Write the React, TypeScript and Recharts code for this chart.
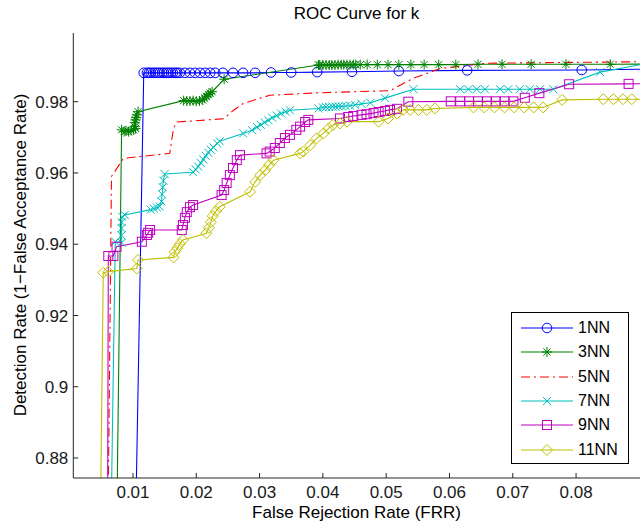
import React from "react";
import { LineChart, Line, XAxis, YAxis } from "recharts";

// ROC curves, [FRR, detection rate]
const nn1: [number, number][] = [
  [0.0105, 0.87], [0.0117, 0.9881], [0.0122, 0.9881], [0.0125, 0.9881], [0.0128, 0.9881],
  [0.0132, 0.9881], [0.0135, 0.9881], [0.0139, 0.9881], [0.0142, 0.9881], [0.0146, 0.9881],
  [0.0149, 0.9881], [0.0153, 0.9881], [0.0156, 0.9881], [0.016, 0.9881], [0.0163, 0.9881],
  [0.0167, 0.9881], [0.017, 0.9881], [0.0174, 0.9881], [0.0182, 0.9881], [0.019, 0.9881],
  [0.0198, 0.9881], [0.0206, 0.9881], [0.0214, 0.9881], [0.0222, 0.9881], [0.023, 0.9881],
  [0.0242, 0.9881], [0.0258, 0.9881], [0.0274, 0.9881], [0.0293, 0.9881], [0.0318, 0.9882],
  [0.035, 0.9882], [0.0391, 0.9883], [0.0446, 0.9884], [0.052, 0.9886], [0.0628, 0.9888],
  [0.0809, 0.9889], [0.095, 0.9892],
];

const nn3: [number, number][] = [
  [0.0075, 0.87], [0.0082, 0.9721], [0.0086, 0.9716], [0.0089, 0.9718], [0.0093, 0.9716],
  [0.0097, 0.9719], [0.0101, 0.9721], [0.0104, 0.9725], [0.0103, 0.973], [0.0103, 0.9742],
  [0.0104, 0.9749], [0.0105, 0.9756], [0.0106, 0.9763], [0.0108, 0.9772], [0.018, 0.9803],
  [0.0185, 0.9802], [0.019, 0.9802], [0.0195, 0.9803], [0.02, 0.9801], [0.0205, 0.9802],
  [0.021, 0.9805], [0.0213, 0.981], [0.0216, 0.9815], [0.0219, 0.982], [0.0222, 0.9824],
  [0.0225, 0.9828], [0.0244, 0.9863], [0.0393, 0.9903], [0.0395, 0.9903], [0.04, 0.9903],
  [0.0405, 0.9903], [0.041, 0.9903], [0.0414, 0.9903], [0.0419, 0.9903], [0.0424, 0.9904],
  [0.0429, 0.9904], [0.0433, 0.9904], [0.0438, 0.9904], [0.0443, 0.9904], [0.0448, 0.9904],
  [0.0452, 0.9904], [0.0459, 0.9904], [0.047, 0.9904], [0.0486, 0.9904], [0.0503, 0.9904],
  [0.052, 0.9904], [0.0539, 0.9904], [0.056, 0.9904], [0.0583, 0.9904], [0.061, 0.9904],
  [0.0645, 0.9905], [0.0683, 0.9905], [0.0729, 0.9905], [0.0784, 0.9905], [0.0854, 0.9905],
  [0.095, 0.9906],
];

const nn5: [number, number][] = [
  [0.0061, 0.87], [0.0066, 0.959], [0.0085, 0.9641], [0.0158, 0.9655], [0.0164, 0.9725],
  [0.0169, 0.9743], [0.0243, 0.9752], [0.0259, 0.9776], [0.0274, 0.9795], [0.0316, 0.9818],
  [0.0393, 0.9825], [0.0506, 0.9831], [0.0522, 0.9846], [0.0542, 0.9865], [0.0585, 0.9893],
  [0.0659, 0.9908], [0.095, 0.9913],
];

const nn7: [number, number][] = [
  [0.0066, 0.87], [0.0072, 0.9407], [0.0082, 0.9404], [0.0082, 0.9425], [0.0082, 0.9445],
  [0.0082, 0.9462], [0.0083, 0.9477], [0.0087, 0.9482], [0.0128, 0.9497], [0.0133, 0.95],
  [0.0138, 0.9503], [0.0142, 0.9506], [0.0145, 0.952], [0.0146, 0.954], [0.0147, 0.956],
  [0.0148, 0.9578], [0.015, 0.9597], [0.0195, 0.9602], [0.0199, 0.961], [0.0203, 0.9618],
  [0.0207, 0.9628], [0.0211, 0.9638], [0.0215, 0.9648], [0.0219, 0.9657], [0.0223, 0.9665],
  [0.0227, 0.9672], [0.0233, 0.9683], [0.0237, 0.9689], [0.0274, 0.9711], [0.0288, 0.972],
  [0.0296, 0.9729], [0.0302, 0.9735], [0.0308, 0.9742], [0.0314, 0.9748], [0.032, 0.9755],
  [0.0327, 0.9761], [0.0334, 0.9767], [0.0341, 0.9772], [0.0348, 0.9776], [0.0393, 0.9781],
  [0.04, 0.9784], [0.0405, 0.9785], [0.041, 0.9785], [0.0415, 0.9786], [0.042, 0.9786],
  [0.0425, 0.9787], [0.043, 0.9787], [0.0436, 0.9788], [0.0443, 0.9789], [0.0451, 0.9791],
  [0.0461, 0.9794], [0.0475, 0.9797], [0.0498, 0.981], [0.0543, 0.9835], [0.0617, 0.9835],
  [0.063, 0.9835], [0.0643, 0.9835], [0.0656, 0.9835], [0.068, 0.9835], [0.0693, 0.9835],
  [0.0711, 0.9835], [0.0727, 0.9835], [0.0743, 0.9835], [0.0764, 0.9835], [0.0838, 0.9883],
  [0.095, 0.992],
];

const nn9: [number, number][] = [
  [0.006, 0.87], [0.0061, 0.9367], [0.0069, 0.9367], [0.0074, 0.9393], [0.0114, 0.9407],
  [0.0122, 0.9426], [0.0124, 0.9432], [0.0127, 0.944], [0.0177, 0.944], [0.0179, 0.9454],
  [0.0182, 0.9474], [0.0185, 0.949], [0.019, 0.9504], [0.0195, 0.951], [0.024, 0.9538],
  [0.0244, 0.9552], [0.0248, 0.9572], [0.0253, 0.9594], [0.0258, 0.9614], [0.0264, 0.9636],
  [0.0269, 0.965], [0.0311, 0.9655], [0.0316, 0.966], [0.0324, 0.967], [0.0332, 0.9684],
  [0.034, 0.9698], [0.0348, 0.9707], [0.0358, 0.9721], [0.0364, 0.973], [0.0372, 0.9743],
  [0.0377, 0.9749], [0.0427, 0.9753], [0.044, 0.9757], [0.0448, 0.976], [0.0461, 0.9763],
  [0.0469, 0.9765], [0.048, 0.9768], [0.0488, 0.9771], [0.0498, 0.9774], [0.0506, 0.9777],
  [0.0517, 0.978], [0.0535, 0.98], [0.0602, 0.9801], [0.0617, 0.9801], [0.0631, 0.9801],
  [0.0645, 0.9801], [0.0659, 0.9801], [0.0673, 0.9801], [0.0687, 0.9801], [0.0701, 0.9801],
  [0.0719, 0.9811], [0.0742, 0.9824], [0.0789, 0.9849], [0.0883, 0.985], [0.095, 0.9851],
];

const nn11: [number, number][] = [
  [0.0049, 0.87], [0.0053, 0.932], [0.0061, 0.9323], [0.0106, 0.9332], [0.0108, 0.9356],
  [0.0164, 0.9363], [0.0166, 0.9378], [0.017, 0.9389], [0.0174, 0.9401], [0.0179, 0.9412],
  [0.0216, 0.9431], [0.022, 0.9446], [0.0223, 0.9462], [0.0226, 0.9479], [0.0231, 0.9493],
  [0.0237, 0.9505], [0.0285, 0.9547], [0.0293, 0.9575], [0.0301, 0.9594], [0.0309, 0.9608],
  [0.0315, 0.9622], [0.0322, 0.9636], [0.0364, 0.9655], [0.0369, 0.966], [0.038, 0.9678],
  [0.039, 0.9697], [0.0401, 0.9711], [0.0409, 0.9725], [0.0416, 0.9735], [0.0427, 0.9739],
  [0.0438, 0.9744], [0.0488, 0.9744], [0.0503, 0.9753], [0.0517, 0.9767], [0.0527, 0.9777],
  [0.0538, 0.9777], [0.0551, 0.9777], [0.0564, 0.9777], [0.0577, 0.9781], [0.0638, 0.9784],
  [0.0655, 0.9784], [0.0671, 0.9784], [0.0687, 0.9784], [0.0702, 0.9784], [0.0718, 0.9784],
  [0.0733, 0.9784], [0.0748, 0.9784], [0.0778, 0.9805], [0.0843, 0.9807], [0.0859, 0.9807],
  [0.0874, 0.9807], [0.0888, 0.9807], [0.095, 0.9807],
];

const X_TICKS = [0.01, 0.02, 0.03, 0.04, 0.05, 0.06, 0.07, 0.08];
const Y_TICKS = [0.88, 0.9, 0.92, 0.94, 0.96, 0.98];
const X_DOMAIN: [number, number] = [0.00057, 0.0901];
const Y_DOMAIN: [number, number] = [0.87439, 0.99928];

type Shape = "circle" | "star" | "none" | "cross" | "square" | "diamond";

const SERIES: { name: string; pts: [number, number][]; color: string; shape: Shape; dash?: string }[] = [
  { name: "1NN", pts: nn1, color: "#0000ff", shape: "circle" },
  { name: "3NN", pts: nn3, color: "#008000", shape: "star" },
  { name: "5NN", pts: nn5, color: "#ff0000", shape: "none", dash: "9 4 2 4" },
  { name: "7NN", pts: nn7, color: "#00bfbf", shape: "cross" },
  { name: "9NN", pts: nn9, color: "#bf00bf", shape: "square" },
  { name: "11NN", pts: nn11, color: "#bfbf00", shape: "diamond" },
];

const FONT = "'Liberation Sans', Arial, sans-serif";

function MarkerShape({ x, y, shape, color }: { x: number; y: number; shape: Shape; color: string }) {
  const common = { fill: "none", stroke: color, strokeWidth: 1 };
  switch (shape) {
    case "circle":
      return <circle cx={x} cy={y} r={4.8} {...common} />;
    case "square":
      return <rect x={x - 4.5} y={y - 4.5} width={9} height={9} {...common} />;
    case "diamond":
      return <path d={`M${x},${y - 5.5}L${x + 5.5},${y}L${x},${y + 5.5}L${x - 5.5},${y}Z`} {...common} />;
    case "cross":
      return <path d={`M${x - 4},${y - 4}L${x + 4},${y + 4}M${x - 4},${y + 4}L${x + 4},${y - 4}`} {...common} />;
    case "star":
      return (
        <path
          d={`M${x - 5},${y}L${x + 5},${y}M${x},${y - 5}L${x},${y + 5}M${x - 3.6},${y - 3.6}L${x + 3.6},${y + 3.6}M${x - 3.6},${y + 3.6}L${x + 3.6},${y - 3.6}`}
          {...common}
        />
      );
    default:
      return null;
  }
}

function makeDot(shape: Shape, color: string) {
  return (props: any) => {
    const { cx, cy, index } = props;
    if (cx == null || cy == null) return <g key={`d-${index}`} />;
    return (
      <g key={`d-${index}`}>
        <MarkerShape x={cx} y={cy} shape={shape} color={color} />
      </g>
    );
  };
}

function Legend() {
  return (
    <div
      style={{
        position: "absolute",
        left: 511,
        top: 312,
        width: 116,
        height: 150,
        border: "1px solid #000",
        background: "#fff",
        fontFamily: FONT,
        fontSize: 16,
      }}
    >
      {SERIES.map((s, i) => (
        <div key={s.name} style={{ position: "absolute", left: 0, top: 5 + i * 24.3, height: 20, width: 116 }}>
          <svg width={64} height={20} style={{ position: "absolute", left: 8, top: 0 }}>
            <line x1={1} y1={10} x2={53} y2={10} stroke={s.color} strokeWidth={1.2} strokeDasharray={s.dash} />
            <MarkerShape x={27} y={10} shape={s.shape} color={s.color} />
          </svg>
          <span style={{ position: "absolute", left: 66, top: 0, lineHeight: "20px", color: "#000" }}>{s.name}</span>
        </div>
      ))}
    </div>
  );
}

const tickStyle = { fontSize: 17, fill: "#1a1a1a", fontFamily: FONT };

export default function App() {
  return (
    <div style={{ position: "relative", width: 640, height: 525, background: "#fff", overflow: "hidden" }}>
      <style>{`body{margin:0}`}</style>
      <LineChart width={640} height={525} margin={{ top: 33, right: 0, bottom: 0, left: 0 }}>
        <XAxis
          type="number"
          dataKey="x"
          domain={X_DOMAIN}
          ticks={X_TICKS}
          interval={0}
          allowDataOverflow
          height={47}
          tickSize={-5}
          tickMargin={13}
          axisLine={{ stroke: "#262626" }}
          tickLine={{ stroke: "#262626" }}
          tick={tickStyle}
        />
        <YAxis
          type="number"
          domain={Y_DOMAIN}
          ticks={Y_TICKS}
          interval={0}
          allowDataOverflow
          width={73.3}
          tickSize={-5}
          tickMargin={10}
          axisLine={{ stroke: "#262626" }}
          tickLine={{ stroke: "#262626" }}
          tick={tickStyle}
        />
        {SERIES.map((s) => (
          <Line
            key={s.name}
            name={s.name}
            data={s.pts.map(([x, y]) => ({ x, y }))}
            dataKey="y"
            type="linear"
            stroke={s.color}
            strokeWidth={1.1}
            strokeDasharray={s.dash}
            dot={s.shape === "none" ? false : makeDot(s.shape, s.color)}
            activeDot={false}
            isAnimationActive={false}
          />
        ))}
      </LineChart>
      <div
        style={{
          position: "absolute",
          left: 73,
          width: 567,
          top: 3,
          textAlign: "center",
          fontFamily: FONT,
          fontSize: 17,
          lineHeight: "22px",
          color: "#000",
        }}
      >
        ROC Curve for k
      </div>
      <div
        style={{
          position: "absolute",
          left: 73,
          width: 567,
          top: 502,
          textAlign: "center",
          fontFamily: FONT,
          fontSize: 17,
          lineHeight: "22px",
          color: "#000",
        }}
      >
        False Rejection Rate (FRR)
      </div>
      <div
        style={{
          position: "absolute",
          left: 21 - 250,
          top: 255 - 11,
          width: 500,
          textAlign: "center",
          transform: "rotate(-90deg)",
          fontFamily: FONT,
          fontSize: 17,
          lineHeight: "22px",
          color: "#000",
        }}
      >
        Detection Rate (1−False Acceptance Rate)
      </div>
      <Legend />
    </div>
  );
}
